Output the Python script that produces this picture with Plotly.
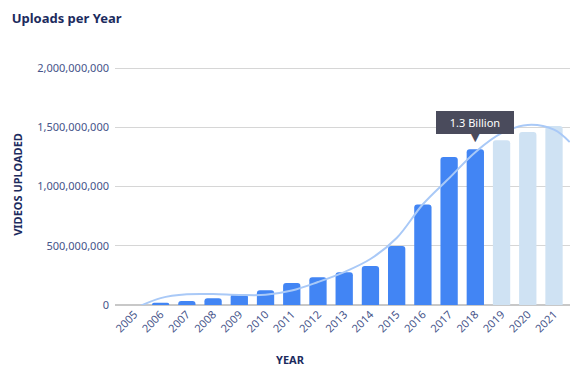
import plotly.graph_objects as go

years = list(range(2005, 2022))
uploads = [0, 19e6, 34e6, 56e6, 90e6, 124e6, 186e6, 234e6, 276e6, 329e6, 497e6,
           849e6, 1.248e9, 1.315e9, 1.39e9, 1.46e9, 1.51e9]
is_forecast = [y >= 2019 for y in years]

trend_x = [2005, 2006, 2007, 2008, 2009, 2010, 2011, 2012, 2013, 2014, 2015,
           2016, 2017, 2018, 2019, 2020, 2021, 2021.6]
trend_y = [-30e6, 58e6, 90e6, 92e6, 85e6, 86e6, 122e6, 194e6, 278e6, 388e6, 565e6,
           850e6, 1.07e9, 1.29e9, 1.45e9, 1.52e9, 1.48e9, 1.375e9]

y_ticks = [0, 500e6, 1e9, 1.5e9, 2e9]
highlight_year = 2018
highlight_label = "1.3 Billion"

BLUE = "#4285f4"
LIGHT = "#cfe2f3"
NAVY = "#1c2b5e"
TICK = "#46548a"
FONT = "Noto Sans"

fig = go.Figure()
fig.add_trace(go.Bar(
    x=years, y=uploads,
    marker=dict(color=[LIGHT if f else BLUE for f in is_forecast], line=dict(width=0)),
    width=0.66, hoverinfo="skip",
))
fig.add_trace(go.Scatter(
    x=trend_x, y=trend_y, mode="lines",
    line=dict(color="#a9c9f7", width=2, shape="spline", smoothing=1.0),
    hoverinfo="skip",
))

hv = uploads[years.index(highlight_year)]
fig.add_annotation(
    x=highlight_year, y=hv, xref="x", yref="y",
    text=highlight_label, showarrow=False, yanchor="bottom", yshift=15,
    bgcolor="#4a4b5c", bordercolor="#4a4b5c", borderpad=3, width=70,
    font=dict(family=FONT, size=11, color="white"),
)
fig.add_annotation(
    x=highlight_year, y=hv, xref="x", yref="y",
    text="▼", showarrow=False, yanchor="bottom", yshift=3,
    font=dict(family="DejaVu Sans", size=11, color="#4a4b5c"),
)
fig.add_annotation(
    x=0.385, y=-0.185, xref="paper", yref="paper", xanchor="center", yanchor="top",
    text="<b>YEAR</b>", showarrow=False,
    font=dict(family=FONT, size=11, color=NAVY),
)

fig.update_layout(
    width=583, height=376,
    margin=dict(l=115, r=13, t=64, b=71),
    plot_bgcolor="white", paper_bgcolor="white",
    showlegend=False,
    barcornerradius=3,
    title=dict(text="<b>Uploads per Year</b>", x=0.02, xanchor="left", y=0.952, yanchor="middle",
               font=dict(family=FONT, size=13, color=NAVY)),
    xaxis=dict(
        range=[2004.26, 2021.61], tickmode="array", tickvals=years,
        ticktext=[str(y) for y in years], tickangle=-45,
        tickfont=dict(family=FONT, size=11, color=TICK),
        showgrid=False, zeroline=False, showline=False, ticks="", automargin=False,
    ),
    yaxis=dict(
        range=[0, 2.0338e9], tickmode="array", tickvals=y_ticks, tickformat=",",
        tickfont=dict(family=FONT, size=11, color=TICK),
        gridcolor="#d6d6d6", gridwidth=1, zeroline=True, zerolinecolor="#c8c8c8",
        zerolinewidth=2, ticks="", ticklabelstandoff=5, automargin=False,
        title=dict(text="<b>VIDEOS UPLOADED</b>", standoff=12,
                   font=dict(family=FONT, size=11, color=NAVY)),
    ),
)

fig.write_html("out.html", config={"displayModeBar": False},
               post_script="document.body.style.margin='0';")
